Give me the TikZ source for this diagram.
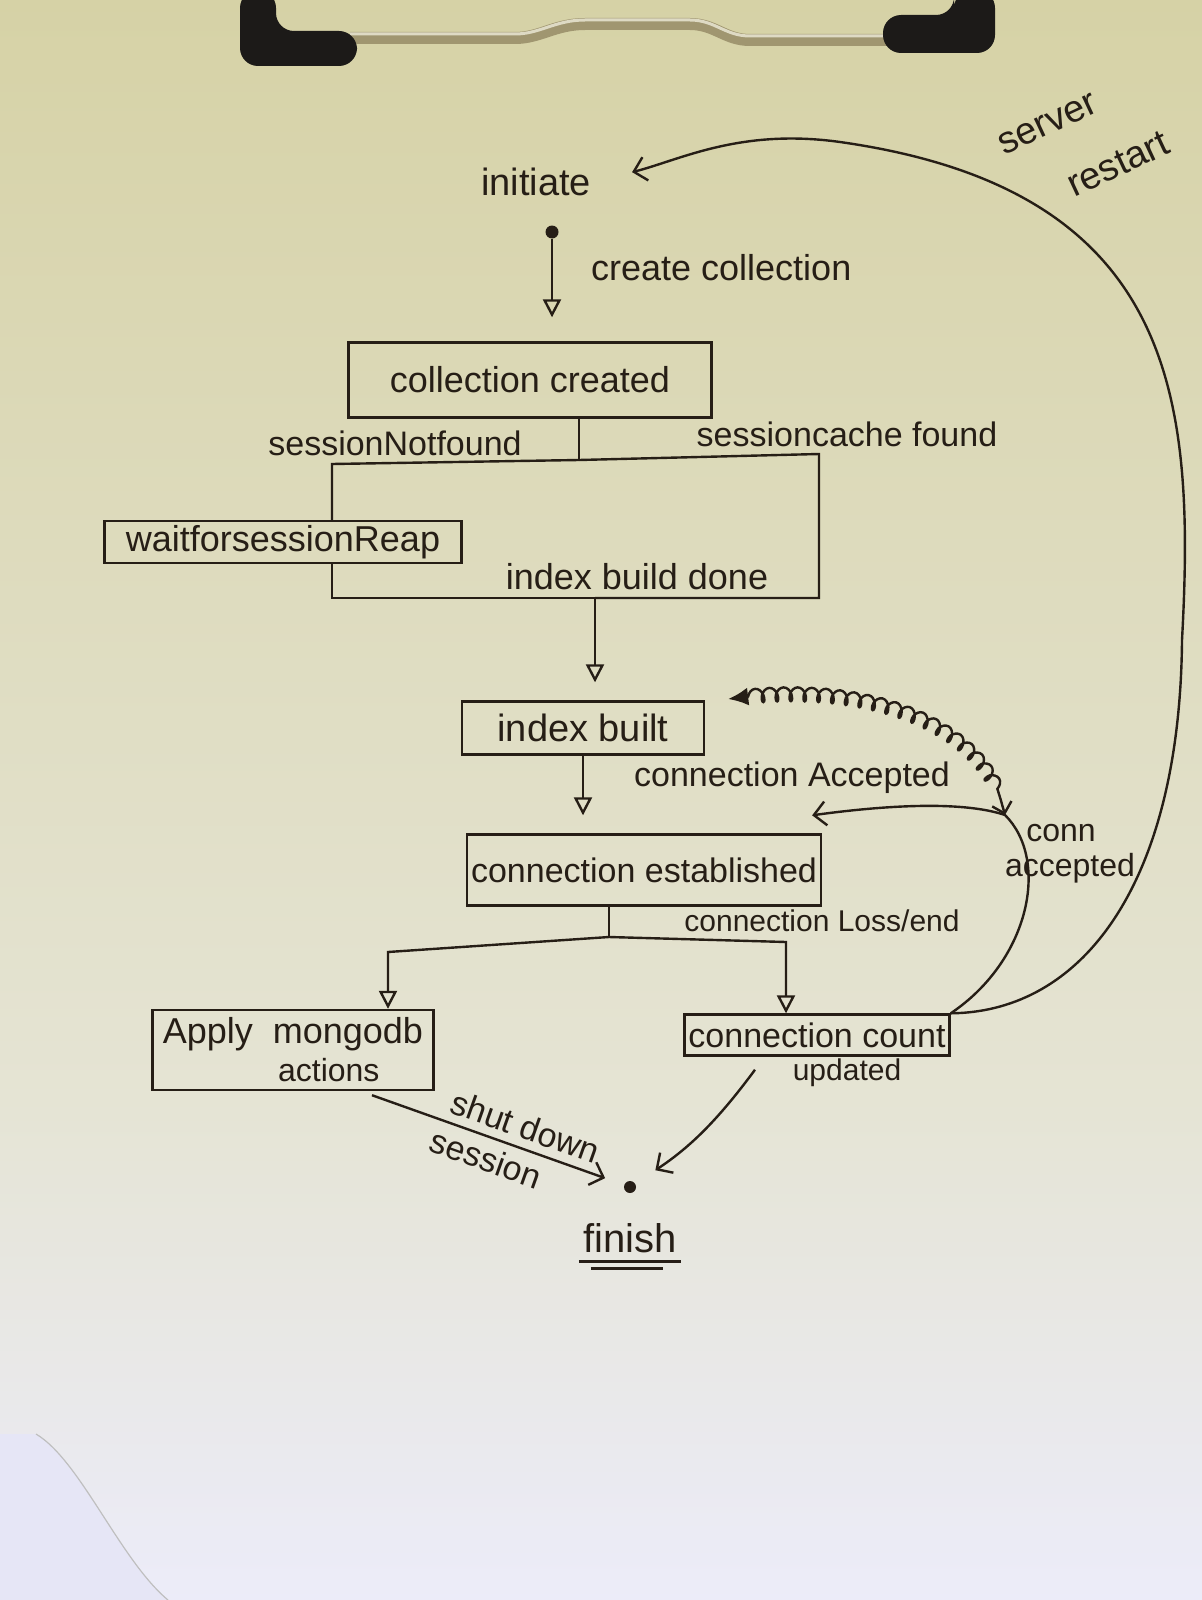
\documentclass[tikz,border=0pt]{standalone}
\usepackage{fontspec}
\setmainfont{Liberation Sans}
\usetikzlibrary{positioning, arrows.meta, calc, decorations.pathmorphing}
\definecolor{ink}{RGB}{38,30,22}
\definecolor{paperTop}{RGB}{214,210,166}
\definecolor{paperMid}{RGB}{229,228,212}
\definecolor{paperLow}{RGB}{236,236,249}
\definecolor{paperEdge}{RGB}{230,230,246}
\definecolor{clipBlack}{RGB}{28,26,24}
\definecolor{wireGold}{RGB}{160,150,112}
\definecolor{wireShine}{RGB}{222,218,196}
\newcommand{\hand}[1]{\fontsize{#1}{#1}\selectfont}

\begin{document}
\begin{tikzpicture}[
    x=0.5pt, y=-0.5pt,
    every node/.style={text=ink},
    stateBox/.style={
        draw=ink,
        line width=1.2pt,
        inner sep=2pt,
        align=center,
        font=\hand{18}
    },
    lbl/.style={font=\hand{17}, inner sep=1pt},
    link/.style={draw=ink, line width=1.2pt},
    tri/.style={link, -{Triangle[open, length=9pt, width=9pt]}},
    barb/.style={link, -{Straight Barb[length=6pt, width=12pt]}},
    dotNode/.style={circle, fill=ink, inner sep=0pt, minimum size=5pt}
]
    % Paper and clip
    \useasboundingbox (0,0) rectangle (1202,1600);
    \shade[top color=paperTop, bottom color=paperMid] (0,0) rectangle (1202,1100);
    \shade[top color=paperMid, bottom color=paperLow] (0,1100) rectangle (1202,1600);
    \fill[paperEdge] (0,1434) -- (36,1434) .. controls (80,1460) and (120,1560) .. (168,1600) -- (0,1600) -- cycle;
    \draw[black!25, line width=0.6pt] (36,1434) .. controls (80,1460) and (120,1560) .. (168,1600);
    \draw[wireGold, line width=6pt] (350,38) -- (515,38) .. controls (540,38) and (555,24) .. (585,24) -- (690,24) .. controls (715,24) and (725,40) .. (750,40) -- (890,40);
    \draw[wireShine, line width=1.5pt] (350,34) -- (515,34) .. controls (540,34) and (555,20) .. (585,20) -- (690,20) .. controls (715,20) and (725,36) .. (750,36) -- (890,36);
    \fill[clipBlack, rounded corners=9pt] (240,-10) -- (240,66) -- (357,66) -- (357,31) -- (276,31) -- (276,-10) -- cycle;
    \fill[clipBlack, rounded corners=9pt] (995,-10) -- (995,53) -- (883,53) -- (883,15) -- (954,15) -- (954,-10) -- cycle;

    % Start
    \node[lbl, font=\hand{19}] (init) at (536,182) {initiate};
    \node[dotNode, minimum size=6.5pt] (start) at (552,232) {};
    \node[stateBox, minimum width=181.5pt, minimum height=37.5pt] (created) at (530,380) {collection created};
    \draw[tri, shorten >=12pt] (start) -- node[pos=0.28, anchor=west, xshift=18pt, lbl, font=\hand{18}] {create collection} (start |- created.north);

    % Session branches
    \coordinate (split1) at (579,460);
    \coordinate (nf) at (332,464);
    \coordinate (cf) at (819,454);
    \coordinate (merge1) at (595,598);
    \node[stateBox, minimum width=178.5pt, minimum height=20.5pt] (wait) at (283,542) {waitforsessionReap};
    \node[stateBox, minimum width=121pt, minimum height=26.5pt, font=\hand{19}] (built) at (583,728) {index built};
    \draw[link] (created.south -| split1) -- (split1);
    \draw[link] (split1) -- (nf) -- (nf |- wait.north);
    \draw[link] (split1) -- (cf) -- (cf |- merge1) -- (merge1);
    \draw[link] (wait.south -| nf) -- (nf |- merge1) -- (merge1);
    \draw[tri, shorten >=9pt] (merge1) -- (merge1 |- built.north);
    \node[lbl] at (395,443) {sessionNotfound};
    \node[lbl] at (847,434) {sessioncache found};
    \node[lbl, font=\hand{18}] at (637,577) {index build done};

    % Connection
    \node[stateBox, minimum width=166.5pt, minimum height=35.5pt, font=\hand{17}] (established) at (644,870) {connection established};
    \draw[tri, shorten >=9pt] (built.south) -- (built.south |- established.north);
    \node[lbl] at (792,778) {connection Accepted};

    \coordinate (split2) at (609,937);
    \coordinate (ap) at (388,952);
    \coordinate (cc) at (786,942);
    \node[stateBox, minimum width=140.5pt, minimum height=40pt, align=left] (apply) at (293,1050) {Apply\ \ mongodb\\[1pt]\hspace*{3.2em}{\hand{16}actions}};
    \node[stateBox, minimum width=131.5pt, minimum height=20.5pt, font=\hand{17}] (count) at (817,1035) {connection count};
    \node[lbl, font=\hand{15}, below=0pt of count, xshift=15pt] (updated) {updated};
    \draw[link] (established.south -| split2) -- (split2);
    \draw[tri] (split2) -- (ap) -- (ap |- apply.north);
    \draw[tri] (split2) -- (cc) -- (cc |- count.north);
    \node[lbl, font=\hand{15}] at (822,921) {connection Loss/end};

    % Loops back
    \coordinate (ca) at (1005,815);
    \draw[link, decorate, decoration={coil, amplitude=3.5pt, segment length=7pt, aspect=0.6, pre length=10pt, post length=8pt}, {Latex[length=10pt, width=9pt]}-{Straight Barb[length=5pt]}]
        ([shift={(23,-29)}]built.east) .. controls (860,680) and (985,720) .. (ca);
    \draw[barb] (count.north east) .. controls (1030,960) and (1050,860) .. (ca) .. controls (960,800) and (880,806) .. ([shift={(-10,-18)}]established.north east);
    \node[lbl, font=\hand{16}] (conn) at (1061,833) {conn};
    \node[lbl, font=\hand{16}] (accepted) at (1070,868) {accepted};

    \draw[barb, shorten >=20pt] (count.north east) .. controls (1085,1012) and (1180,880) .. (1182,640) .. controls (1195,400) and (1178,190) .. (840,142) .. controls (740,128) and (680,160) .. (init.east);
    \node[lbl, rotate=25, font=\hand{19}] (server) at (1048,124) {server};
    \node[lbl, rotate=25, font=\hand{19}] (restart) at (1118,164) {restart};

    % Finish
    \node[dotNode, minimum size=6pt] (end) at (630,1187) {};
    \node[lbl, font=\hand{20}, below=14pt of end] (finish) {finish};
    \draw[link] ([shift={(-2,6)}]finish.south west) -- ([shift={(2,6)}]finish.south east);
    \draw[link] ([shift={(10,13)}]finish.south west) -- ([shift={(-16,13)}]finish.south east);
    \draw[barb, shorten >=10pt] ([shift={(79,4)}]apply.south) --
        node[pos=0.58, above=3pt, sloped, lbl] {shut down}
        node[pos=0.48, below=3pt, sloped, lbl] {session} (end);
    \draw[barb, shorten >=12pt] ([shift={(-62,13)}]count.south) to[bend left=10] (end);
\end{tikzpicture}
\end{document}
